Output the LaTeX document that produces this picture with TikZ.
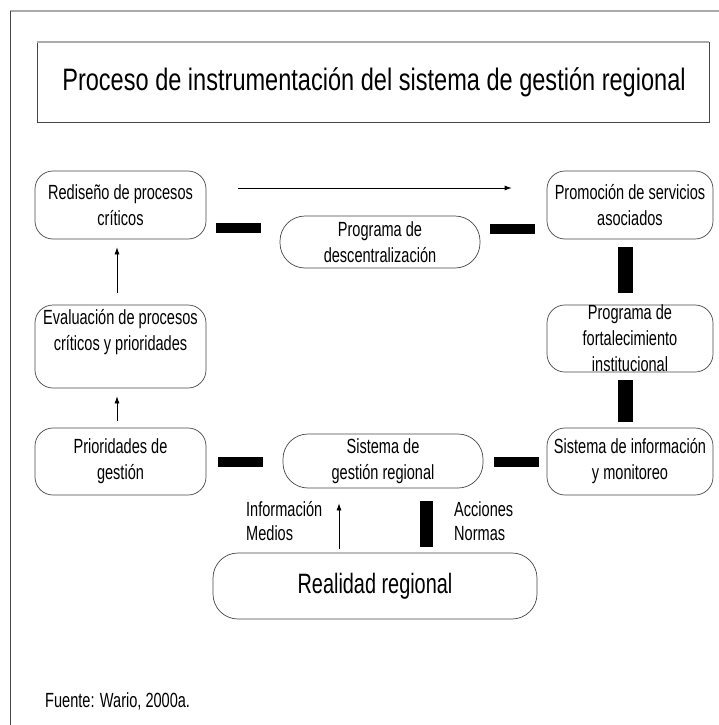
\documentclass[tikz,border=0pt]{standalone}
\usepackage{fontspec}
\setmainfont{Liberation Sans}[FakeStretch=0.71]
\newfontfamily\titlefont{Liberation Sans}[FakeStretch=0.76]
\usetikzlibrary{arrows.meta}
\definecolor{framegray}{RGB}{170,170,170}
\definecolor{edgegray}{RGB}{70,70,70}
\tikzset{
  box/.style={draw=edgegray, line width=0.7pt, rounded corners=18pt, align=center,
    font=\fontsize{20.5}{26}\selectfont, inner sep=0pt},
  pill/.style={box, rounded corners=25pt},
  barh/.style={fill=black, draw=none, minimum width=45pt, minimum height=10pt, inner sep=0pt},
  barv/.style={fill=black, draw=none, minimum width=15pt, inner sep=0pt},
  arr/.style={draw=black, line width=0.7pt, -{Latex[length=7pt,width=5pt]}},
  lab/.style={align=left, font=\fontsize{20.5}{24}\selectfont, inner sep=0pt, anchor=west}
}
\begin{document}
\begin{tikzpicture}[x=1pt,y=-1pt]
\useasboundingbox (0,0) rectangle (719,725);
% outer frame
\draw[framegray, line width=2pt] (10,11) -- (719,11);
\draw[edgegray, line width=1pt] (10.5,11) -- (10.5,725);
% title box
\draw[edgegray, line width=0.8pt] (37,42) -- (37,122) -- (709,122) -- (709,42);
\draw[framegray, line width=2pt] (37,42) -- (709,42);
\node[font=\titlefont\fontsize{31}{34}\selectfont, inner sep=0pt] (title) at (374,82) {Proceso de instrumentación del sistema de gestión regional};
% boxes
\node[box, minimum width=171pt, minimum height=68pt] (red) at (120.5,205) {Rediseño de procesos\\críticos};
\node[pill, minimum width=200pt, minimum height=52pt] (prog) at (380,242) {Programa de\\descentralización};
\node[box, minimum width=166pt, minimum height=68pt] (prom) at (630,205) {Promoción de servicios\\asociados};
\node[box, minimum width=166pt, minimum height=67pt] (fort) at (630,338.5) {Programa de\\fortalecimiento\\institucional};
\node[box, minimum width=171pt, minimum height=83pt] (eval) at (120.5,346.5) {Evaluación de procesos\\críticos y prioridades\\\strut};
\node[box, minimum width=171pt, minimum height=67pt] (prio) at (120.5,461.5) {Prioridades de\\gestión};
\node[pill, minimum width=200pt, minimum height=54pt] (sg) at (383,461) {Sistema de\\gestión regional};
\node[box, minimum width=166pt, minimum height=67pt] (si) at (630,461.5) {Sistema de información\\y monitoreo};
\node[box, rounded corners=25pt, minimum width=324pt, minimum height=66pt, font=\fontsize{28}{32}\selectfont] (real) at (375,586) {Realidad regional};
% thick bars
\node[barh] (b1) at (238,228) {};
\node[barh] (b2) at (512.5,228.5) {};
\node[barv, minimum height=46pt] (b3) at (625,270) {};
\node[barv, minimum height=42pt] (b4) at (625,401) {};
\node[barh] (b5) at (240,462) {};
\node[barh] (b6) at (516,462) {};
\node[barv, minimum width=13pt, minimum height=46pt] (b7) at (426.5,524) {};
% arrows
\draw[arr, shorten <=12pt, shorten >=8pt] ([xshift=-3.5pt]eval.north) -- ([xshift=-3.5pt]red.south);
\draw[arr, shorten <=7pt, shorten >=8pt] ([xshift=-3.5pt]prio.north) -- ([xshift=-3.5pt]eval.south);
\draw[arr] ([xshift=32pt,yshift=17pt]red.east) -- ([xshift=-35pt,yshift=17pt]prom.west);
\draw[arr, shorten <=4pt, shorten >=15pt] ([xshift=-36pt]real.north) -- ([xshift=-44pt]sg.south);
% labels
\node[lab] (info) at (246,521) {Información\\Medios};
\node[lab] (acc) at (454,521) {Acciones\\Normas};
\node[anchor=west, inner sep=0pt, font=\fontsize{20.5}{24}\selectfont] (src) at (45,701) {Fuente: Wario, 2000a.};
\end{tikzpicture}
\end{document}
